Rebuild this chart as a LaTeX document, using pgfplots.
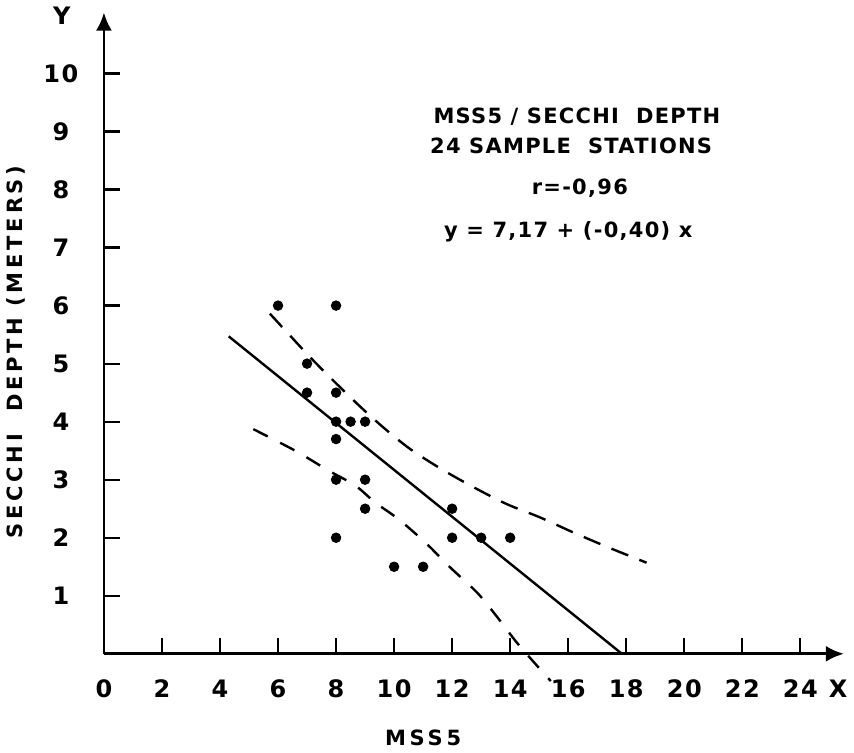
\documentclass[border=0pt]{standalone}
\usepackage{fontspec}
\setmainfont[LetterSpace=18]{DejaVu Sans}
\newfontfamily\tickfont[LetterSpace=6]{DejaVu Sans}
\usepackage{pgfplots}
\pgfplotsset{compat=1.18}
\usetikzlibrary{arrows.meta}

\newcommand\lettering{\fontsize{10.5}{12}\selectfont\bfseries}
\newcommand\titleletters{\tickfont\fontsize{10.5}{12}\selectfont\bfseries}
\newcommand\tickletters{\tickfont\fontsize{12}{14}\selectfont\bfseries}

\begin{document}
\begin{tikzpicture}
\begin{axis}[
  x = 14.5pt, y = 29pt,
  xmin = 0, xmax = 25.5,
  ymin = 0, ymax = 11.05,
  axis lines = left,
  clip = false,
  axis line style = {line width=1.4pt, -{Latex[length=9pt,width=8pt]}},
  xtick = {0,2,...,24},
  ytick = {1,...,10},
  tick align = inside,
  major tick length = 8pt,
  tick style = {line width=1.1pt, black},
  /pgf/number format/assume math mode = true,
  tick label style = {font=\tickletters},
  xticklabel style = {anchor=center, yshift=-17.5pt},
  yticklabel style = {anchor=center, xshift=-21.5pt},
]
  % stations
  \addplot[only marks, mark=*, mark size=2.4pt, black]
    coordinates {
      (6,6) (8,6) (7,5) (7,4.5) (8,4.5) (8,4) (8.5,4) (9,4) (8,3.7)
      (8,3) (9,3) (9,2.5) (8,2) (10,1.5) (11,1.5) (12,2.5) (12,2)
      (13,2) (14,2)
    };
  % regression line
  \addplot[black, line width=1.2pt]
    coordinates { (4.3,5.47) (17.85,0) };
  % upper confidence limit
  \addplot[black, line width=1.2pt, dash pattern=on 9pt off 6pt, smooth]
    coordinates {
      (5.72,5.86) (7.05,5.14) (7.9,4.71) (8.83,4.26) (9.63,3.9)
      (10.55,3.53) (11.64,3.18) (12.74,2.87) (13.88,2.58) (15.03,2.35)
      (16.18,2.09) (17.4,1.83) (18.7,1.57)
    };
  % lower confidence limit
  \addplot[black, line width=1.2pt, dash pattern=on 8pt off 7pt, smooth]
    coordinates {
      (5.15,3.87) (6.59,3.5) (7.73,3.16) (8.66,2.9) (9.34,2.61)
      (10.15,2.32) (11.07,1.92) (11.93,1.49) (12.85,1.06) (13.48,0.68)
      (14.3,0.15) (15.4,-0.47)
    };

  \node[font=\titleletters] at (axis cs:16.3,9.25) {MSS5 / SECCHI~~DEPTH};
  \node[font=\titleletters] at (axis cs:16.1,8.75) {24 SAMPLE~~STATIONS};
  \node[font=\titleletters] at (axis cs:16.4,8.02) {r=-0,96};
  \node[font=\titleletters] at (axis cs:16.0,7.28) {y = 7,17 + (-0,40) x};

  \node[font=\tickletters] at (axis cs:-1.45,11.0) {Y};
  \node[font=\tickletters] at (axis cs:25.3,-0.6) {X};
  \node[font=\lettering] at (axis cs:11.0,-1.45) {MSS5};
  \node[font=\lettering, rotate=90] at (axis cs:-3.03,5.2) {SECCHI~~DEPTH (METERS)};
\end{axis}
\end{tikzpicture}
\end{document}
